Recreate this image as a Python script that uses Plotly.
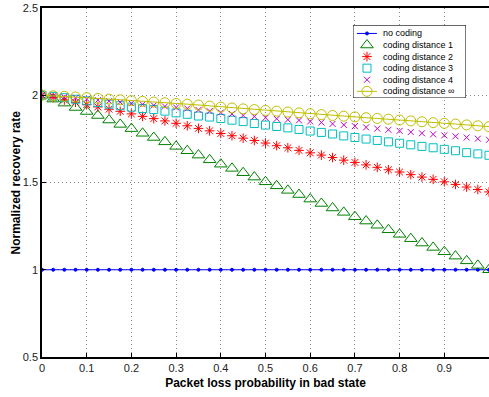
import plotly.graph_objects as go

p = [i * 0.025 for i in range(41)]

no_coding = [1.0] * 41

dist1 = [2.000, 1.978, 1.955, 1.930, 1.907, 1.884, 1.858, 1.833, 1.809, 1.782,
         1.758, 1.733, 1.707, 1.682, 1.657, 1.630, 1.605, 1.581, 1.556, 1.531,
         1.504, 1.481, 1.455, 1.431, 1.405, 1.380, 1.354, 1.329, 1.304, 1.279,
         1.255, 1.229, 1.203, 1.178, 1.153, 1.128, 1.103, 1.078, 1.051, 1.025, 1.000]

dist2 = [2.000, 1.987, 1.973, 1.960, 1.946, 1.933, 1.920, 1.908, 1.893, 1.879,
         1.866, 1.853, 1.839, 1.825, 1.810, 1.796, 1.781, 1.768, 1.754, 1.741,
         1.726, 1.711, 1.699, 1.684, 1.670, 1.657, 1.643, 1.628, 1.615, 1.601,
         1.587, 1.573, 1.560, 1.545, 1.531, 1.518, 1.504, 1.489, 1.474, 1.460, 1.446]

dist3 = [2.000, 1.994, 1.986, 1.977, 1.968, 1.958, 1.949, 1.940, 1.932, 1.924,
         1.918, 1.909, 1.899, 1.891, 1.881, 1.875, 1.867, 1.857, 1.849, 1.838,
         1.829, 1.821, 1.813, 1.804, 1.795, 1.787, 1.778, 1.767, 1.758, 1.749,
         1.741, 1.733, 1.725, 1.716, 1.707, 1.699, 1.690, 1.682, 1.671, 1.664, 1.656]

dist4 = [2.000, 1.995, 1.990, 1.985, 1.978, 1.972, 1.966, 1.960, 1.954, 1.948,
         1.942, 1.936, 1.930, 1.924, 1.916, 1.909, 1.901, 1.893, 1.884, 1.878,
         1.871, 1.865, 1.860, 1.856, 1.850, 1.844, 1.836, 1.830, 1.823, 1.816,
         1.809, 1.802, 1.796, 1.789, 1.782, 1.776, 1.770, 1.765, 1.758, 1.751, 1.745]

dist_inf = [2.000, 1.997, 1.994, 1.990, 1.986, 1.982, 1.978, 1.974, 1.969, 1.965,
            1.961, 1.957, 1.953, 1.949, 1.944, 1.938, 1.932, 1.927, 1.922, 1.918,
            1.913, 1.909, 1.904, 1.899, 1.894, 1.889, 1.884, 1.880, 1.876, 1.871,
            1.867, 1.863, 1.858, 1.853, 1.848, 1.843, 1.839, 1.835, 1.830, 1.825, 1.820]

x_ticks = [0, 0.1, 0.2, 0.3, 0.4, 0.5, 0.6, 0.7, 0.8, 0.9]
x_tick_labels = ["0", "0.1", "0.2", "0.3", "0.4", "0.5", "0.6", "0.7", "0.8", "0.9"]
y_ticks = [0.5, 1, 1.5, 2, 2.5]
y_tick_labels = ["0.5", "1", "1.5", "2", "2.5"]

names = ["no coding", "coding distance 1", "coding distance 2",
         "coding distance 3", "coding distance 4", "coding distance \u221e"]
series = [no_coding, dist1, dist2, dist3, dist4, dist_inf]

# style per series: (mode, symbol, size, color, has_line)
styles = [
    ("lines+markers", "circle", 3, "#0000ff", True),
    ("markers", "triangle-up-open", 11, "#008000", False),
    ("markers", "asterisk-open", 8, "#ff0000", False),
    ("markers", "square-open", 8, "#00bfbf", False),
    ("markers", "x-thin-open", 6, "#bf00bf", False),
    ("lines+markers", "circle-open", 10, "#bfbf00", True),
]

fig = go.Figure()
for name, ys, (mode, sym, size, col, has_line) in zip(names, series, styles):
    fig.add_trace(go.Scatter(
        x=p, y=ys, name=name, mode=mode, showlegend=False,
        line=dict(color=col, width=1),
        marker=dict(symbol=sym, size=size, color=col, line=dict(width=1, color=col)),
        xaxis="x", yaxis="y"))

# ---- custom legend drawn in a small inset axes (rows indexed 0..5) ----
leg_top, leg_bot = -0.72, 5.58
fig.add_trace(go.Scatter(
    x=[0, 1, 1, 0, 0], y=[leg_top, leg_top, leg_bot, leg_bot, leg_top],
    mode="lines", fill="toself", fillcolor="white",
    line=dict(color="black", width=1), showlegend=False, hoverinfo="skip",
    cliponaxis=False, xaxis="x2", yaxis="y2"))
for i, (name, (mode, sym, size, col, has_line)) in enumerate(zip(names, styles)):
    if has_line:
        fig.add_trace(go.Scatter(
            x=[0.035, 0.212], y=[i, i], mode="lines", showlegend=False,
            line=dict(color=col, width=1), hoverinfo="skip",
            xaxis="x2", yaxis="y2"))
    fig.add_trace(go.Scatter(
        x=[0.124], y=[i], mode="markers", showlegend=False, hoverinfo="skip",
        marker=dict(symbol=sym, size=size, color=col, line=dict(width=1, color=col)),
        xaxis="x2", yaxis="y2"))
    fig.add_annotation(x=0.245, y=i, xref="x2", yref="y2", text=name,
                       showarrow=False, xanchor="left", yanchor="middle",
                       font=dict(size=9, color="black"))

# y-axis title placed close to the tick labels
fig.add_annotation(x=0, y=0.5, xref="paper", yref="paper", xshift=-27,
                   text="<b>Normalized recovery rate</b>", textangle=-90,
                   showarrow=False, xanchor="center", yanchor="middle",
                   font=dict(size=12, color="#000"))

grid_style = dict(showgrid=True, gridcolor="#888", griddash="1px,3px", gridwidth=1)

fig.update_layout(
    width=489, height=397,
    margin=dict(l=42, r=0, t=8, b=40, autoexpand=False),
    paper_bgcolor="white", plot_bgcolor="white",
    font=dict(family="Liberation Sans, Arial, sans-serif", size=11, color="#222"),
    showlegend=False,
    xaxis=dict(range=[0, 1], tickvals=x_ticks, ticktext=x_tick_labels,
               ticks="inside", ticklen=4, tickcolor="black",
               showline=True, linecolor="black", linewidth=1.5, mirror=True,
               zeroline=False, automargin=False, fixedrange=True,
               title=dict(text="<b>Packet loss probability in bad state</b>",
                          font=dict(size=12, color="#000"), standoff=6),
               **grid_style),
    yaxis=dict(range=[0.5, 2.5], tickvals=y_ticks, ticktext=y_tick_labels,
               ticks="inside", ticklen=4, tickcolor="black",
               showline=True, linecolor="black", linewidth=1.5,
               zeroline=False, automargin=False, fixedrange=True,
               **grid_style),
    xaxis2=dict(domain=[0.6957, 0.9485], range=[0, 1], anchor="y2", visible=False,
                fixedrange=True),
    yaxis2=dict(domain=[0.742, 0.951], range=[leg_bot, leg_top], anchor="x2",
                visible=False, fixedrange=True),
)

fig.write_html("out.html", config={"displayModeBar": False},
               post_script="document.body.style.margin='0';")
